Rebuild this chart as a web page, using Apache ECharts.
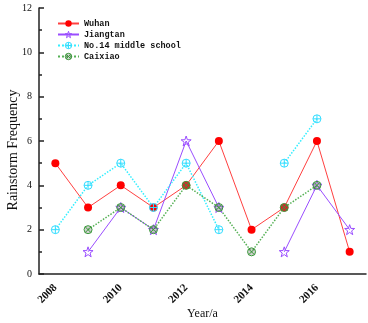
<!DOCTYPE html>
<html>
<head>
<meta charset="utf-8">
<script src="https://cdn.jsdelivr.net/npm/echarts@6/dist/echarts.min.js"></script>
<style>
  html, body { margin: 0; padding: 0; background: #fff; }
  #main { width: 368px; height: 323px; }
</style>
</head>
<body>
<div id="main"></div>
<script>
const years = ['2008', '2009', '2010', '2011', '2012', '2013', '2014', '2015', '2016', '2017']
const wuhan = [5, 3, 4, 3, 4, 6, 2, 3, 6, 1]
const jiangtan = [null, 1, 3, 2, 6, 3, null, 1, 4, 2]
const school14 = [2, 4, 5, 3, 5, 2, null, 5, 7, null]
const caixiao = [null, 2, 3, 2, 4, 3, 1, 3, 4, null]

// marker shapes
const starPath = (() => {
  let d = ''
  for (let i = 0; i < 10; i++) {
    const r = i % 2 ? 4 : 10
    const a = -Math.PI / 2 + i * Math.PI / 5
    d += (i ? 'L' : 'M') + (10 + r * Math.cos(a)).toFixed(2) + ',' + (10 + r * Math.sin(a)).toFixed(2)
  }
  return 'path://' + d + 'Z'
})()
const circlePlus = 'path://M10,0A10,10,0,1,1,10,20A10,10,0,1,1,10,0ZM10,0L10,20M0,10L20,10'
const circleX = 'path://M10,0A10,10,0,1,1,10,20A10,10,0,1,1,10,0ZM2.93,2.93L17.07,17.07M17.07,2.93L2.93,17.07'

const chart = echarts.init(document.getElementById('main'))
const serif = 'Liberation Serif'
const axisColor = '#222'

const red = '#ff0000'
const purple = '#9a4dff'
const cyan = '#33ddff'
const green = '#3a9a3a'
const hollow = 'rgba(255,255,255,0)'

chart.setOption({
  animation: false,
  backgroundColor: '#fff',
  grid: { left: 39, right: 2, top: 8, bottom: 49, outerBoundsMode: 'none', containLabel: false },
  legend: {
    orient: 'vertical',
    left: 52,
    top: 14,
    itemWidth: 21,
    itemHeight: 8,
    itemGap: 2,
    textStyle: { fontFamily: 'Liberation Mono', fontWeight: 'bold', fontSize: 8.5, color: '#111' },
    data: [
      { name: 'Wuhan', itemStyle: { color: red } },
      { name: 'Jiangtan', itemStyle: { color: hollow, borderColor: purple, borderWidth: 1 } },
      { name: 'No.14 middle school', itemStyle: { color: hollow, borderColor: cyan, borderWidth: 1 } },
      { name: 'Caixiao', itemStyle: { color: 'rgba(120,120,120,0.35)', borderColor: green, borderWidth: 1 } }
    ]
  },
  xAxis: [
    {
      type: 'category',
      data: years,
      boundaryGap: true,
      name: 'Year/a',
      nameLocation: 'middle',
      nameGap: 34,
      nameMoveOverlap: false,
      nameTextStyle: { fontFamily: serif, fontSize: 12, color: '#111' },
      axisLine: { lineStyle: { color: axisColor, width: 1.5 } },
      axisTick: { inside: true, alignWithLabel: true, interval: 1, length: 5, lineStyle: { color: axisColor, width: 1.5 } },
      axisLabel: { interval: 1, rotate: 45, fontFamily: serif, fontWeight: 'bold', fontSize: 11, color: '#111', margin: 12 },
      splitLine: { show: false }
    },
    {
      type: 'category',
      data: years,
      boundaryGap: true,
      position: 'bottom',
      axisLine: { show: false },
      axisTick: { inside: true, alignWithLabel: true, interval: 0, length: 3, lineStyle: { color: axisColor, width: 1.5 } },
      axisLabel: { show: false },
      splitLine: { show: false }
    }
  ],
  yAxis: {
    type: 'value',
    min: 0,
    max: 12,
    interval: 2,
    name: 'Rainstorm Frequency',
    nameLocation: 'middle',
    nameGap: 19,
    nameMoveOverlap: false,
    nameTextStyle: { fontFamily: serif, fontSize: 14, color: '#111', padding: [0, 18, 0, 0] },
    axisLine: { show: true, lineStyle: { color: axisColor, width: 1.5 } },
    axisTick: { show: true, inside: true, length: 5, lineStyle: { color: axisColor, width: 1.5 } },
    minorTick: { show: true, splitNumber: 2, length: 3, lineStyle: { color: axisColor, width: 1.5 } },
    axisLabel: { fontFamily: serif, fontSize: 10, color: '#111', margin: 7 },
    splitLine: { show: false }
  },
  series: [
    {
      name: 'Wuhan',
      type: 'line',
      data: wuhan,
      symbol: 'circle',
      symbolSize: 8,
      lineStyle: { color: '#ff4040', width: 1 },
      itemStyle: { color: red }
    },
    {
      name: 'Jiangtan',
      type: 'line',
      data: jiangtan,
      symbol: starPath,
      symbolSize: 10,
      lineStyle: { color: purple, width: 1 },
      itemStyle: { color: hollow, borderColor: purple, borderWidth: 1 }
    },
    {
      name: 'No.14 middle school',
      type: 'line',
      data: school14,
      symbol: circlePlus,
      symbolSize: 8,
      lineStyle: { color: '#33eeff', width: 1.5, type: 'dotted' },
      itemStyle: { color: hollow, borderColor: cyan, borderWidth: 1 }
    },
    {
      name: 'Caixiao',
      type: 'line',
      data: caixiao,
      symbol: circleX,
      symbolSize: 8,
      lineStyle: { color: '#55b055', width: 1.5, type: 'dotted' },
      itemStyle: { color: 'rgba(120,120,120,0.35)', borderColor: green, borderWidth: 1 }
    }
  ]
})
</script>
</body>
</html>
